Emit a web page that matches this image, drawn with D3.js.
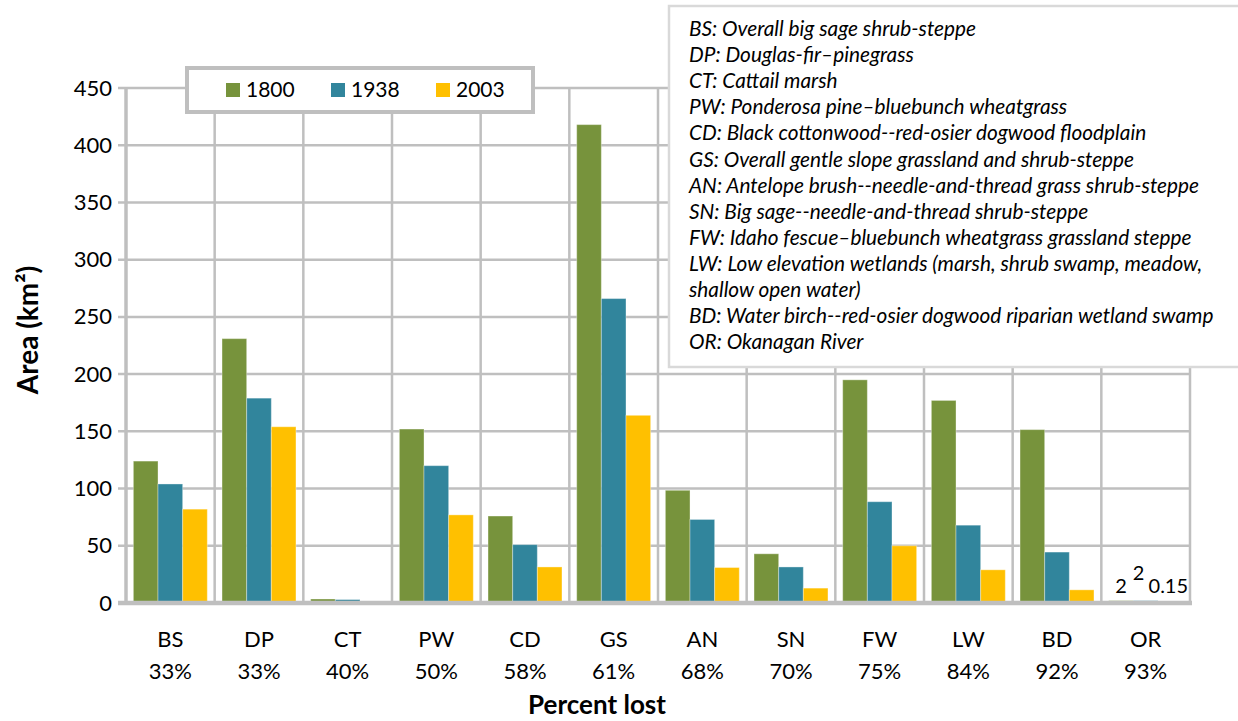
<!DOCTYPE html>
<html>
<head>
<meta charset="utf-8">
<script src="https://cdn.jsdelivr.net/npm/d3@7"></script>
<style>
  html, body { margin: 0; padding: 0; background: #fff; }
  svg { display: block; font-family: Lato, "Open Sans", sans-serif; }
</style>
</head>
<body>
<svg id="chart" width="1238" height="721"></svg>
<script>
// Habitat types, ordered by percent of area lost
const categories = ["BS", "DP", "CT", "PW", "CD", "GS", "AN", "SN", "FW", "LW", "BD", "OR"];
const percentLost = ["33%", "33%", "40%", "50%", "58%", "61%", "68%", "70%", "75%", "84%", "92%", "93%"];
const years = ["1800", "1938", "2003"];

// Area (km²) per habitat type in each year
const area1800 = [124, 231, 3.5, 152, 76, 418, 98.5, 43, 195, 177, 151.5, 2];
const area1938 = [104, 179, 3, 120, 51, 266, 73, 31.5, 88.5, 68, 44.5, 2];
const area2003 = [82, 154, 1, 77, 31.5, 164, 31, 13, 50, 29, 11.5, 0.15];

const yTicks = [0, 50, 100, 150, 200, 250, 300, 350, 400, 450];

const glossary = [
  "BS: Overall big sage shrub-steppe",
  "DP: Douglas-fir\u2013pinegrass",
  "CT: Cattail marsh",
  "PW: Ponderosa pine\u2013bluebunch wheatgrass",
  "CD: Black cottonwood--red-osier dogwood floodplain",
  "GS: Overall gentle slope grassland and shrub-steppe",
  "AN: Antelope brush--needle-and-thread grass shrub-steppe",
  "SN: Big sage--needle-and-thread shrub-steppe",
  "FW: Idaho fescue\u2013bluebunch wheatgrass grassland steppe",
  "LW: Low elevation wetlands (marsh, shrub swamp, meadow,",
  "shallow open water)",
  "BD: Water birch--red-osier dogwood riparian wetland swamp",
  "OR: Okanagan River"
];

// Only the Okanagan River bars carry value labels (they are too small to see)
const labelledCategory = "OR";

const colors = ["#77933C", "#31859C", "#FFC000"];
const gridColor = "#bfbfbf";

const series = [area1800, area1938, area2003];
const rows = categories.map((c, i) => ({
  cat: c, pct: percentLost[i],
  values: years.map((y, s) => ({ year: y, value: series[s][i], cat: c }))
}));

const svg = d3.select("#chart");
const plot = { left: 126, right: 1190, top: 88, bottom: 603 };

const x = d3.scaleBand().domain(categories).range([plot.left, plot.right]).paddingInner(0).paddingOuter(0);
const inner = 0.166; // gap between groups as a share of the band
const x1 = d3.scaleBand().domain(years)
  .range([x.bandwidth() * inner / 2, x.bandwidth() * (1 - inner / 2)]);
const y = d3.scaleLinear().domain([0, 450]).range([plot.bottom, plot.top]);

// Horizontal gridlines
svg.append("g").selectAll("line").data(yTicks).join("line")
  .attr("x1", plot.left - 8).attr("x2", plot.right)
  .attr("y1", d => y(d)).attr("y2", d => y(d))
  .attr("stroke", gridColor).attr("stroke-width", 2.5);

// Vertical gridlines between categories
svg.append("g").selectAll("line").data(categories.map((c, i) => i + 1)).join("line")
  .attr("x1", i => plot.left + i * x.step()).attr("x2", i => plot.left + i * x.step())
  .attr("y1", plot.top).attr("y2", plot.bottom)
  .attr("stroke", gridColor).attr("stroke-width", 2.5);

// Bars
const groups = svg.append("g").selectAll("g").data(rows).join("g")
  .attr("transform", d => `translate(${x(d.cat)},0)`);
groups.selectAll("rect").data(d => d.values).join("rect")
  .attr("x", d => x1(d.year))
  .attr("width", x1.bandwidth())
  .attr("y", d => y(d.value))
  .attr("height", d => y(0) - y(d.value))
  .attr("fill", (d, i) => colors[i])
  .attr("stroke", "#ffffff").attr("stroke-opacity", 0.35).attr("stroke-width", 1);

// Axis lines
svg.append("line").attr("x1", plot.left).attr("x2", plot.left)
  .attr("y1", plot.top - 1).attr("y2", plot.bottom + 2)
  .attr("stroke", gridColor).attr("stroke-width", 3.5);
svg.append("line").attr("x1", plot.left - 8).attr("x2", plot.right + 2)
  .attr("y1", plot.bottom).attr("y2", plot.bottom)
  .attr("stroke", gridColor).attr("stroke-width", 4.5);

// Y tick labels
const yAxis = d3.axisLeft(y).tickValues(yTicks).tickSize(0).tickPadding(14);
const gy = svg.append("g").attr("transform", `translate(${plot.left},0)`).call(yAxis);
gy.select(".domain").remove();
gy.selectAll("text").attr("font-size", 22).attr("fill", "#000").attr("font-family", "Lato");

// Category labels (two lines: code and percent lost)
const gx = svg.append("g").selectAll("g").data(rows).join("g")
  .attr("transform", d => `translate(${x(d.cat) + x.bandwidth() / 2},0)`);
gx.append("text").attr("y", 647).attr("text-anchor", "middle")
  .attr("font-size", 22).text(d => d.cat);
gx.append("text").attr("y", 679).attr("text-anchor", "middle")
  .attr("font-size", 22).text(d => d.pct);

// Value labels on the OR bars
const labelNudge = [{ dx: 0, dy: -8 }, { dx: -7, dy: -21 }, { dx: -2, dy: -10 }];
const orRow = rows.find(r => r.cat === labelledCategory);
svg.append("g").selectAll("text").data(orRow.values).join("text")
  .attr("x", (d, i) => x(d.cat) + x1(d.year) + x1.bandwidth() / 2 + labelNudge[i].dx)
  .attr("y", (d, i) => y(d.value) + labelNudge[i].dy)
  .attr("text-anchor", "middle").attr("font-size", 20)
  .text(d => d.value);

// Axis titles
svg.append("text").attr("x", 597).attr("y", 714)
  .attr("text-anchor", "middle").attr("font-size", 26).attr("font-weight", "bold")
  .text("Percent lost");
svg.append("text").attr("transform", "translate(38,330) rotate(-90)")
  .attr("text-anchor", "middle").attr("font-size", 28).attr("font-weight", "bold")
  .text("Area (km²)");

// Legend
const legend = svg.append("g");
legend.append("rect").attr("x", 187).attr("y", 68).attr("width", 346).attr("height", 44)
  .attr("fill", "#fff").attr("stroke", gridColor).attr("stroke-width", 4);
const li = legend.selectAll("g").data(years).join("g")
  .attr("transform", (d, i) => `translate(${226 + i * 105},0)`);
li.append("rect").attr("x", 0).attr("y", 83).attr("width", 14).attr("height", 14)
  .attr("fill", (d, i) => colors[i]);
li.append("text").attr("x", 20).attr("y", 97).attr("font-size", 21).text(d => d);

// Glossary box
const gbox = svg.append("g");
gbox.append("rect").attr("x", 669).attr("y", 6).attr("width", 600).attr("height", 361)
  .attr("fill", "#fff").attr("stroke", "#d9d9d9").attr("stroke-width", 2.5);
gbox.selectAll("text").data(glossary).join("text")
  .attr("x", 689).attr("y", (d, i) => 36 + i * 26.1)
  .attr("font-size", 20.8).attr("font-style", "italic")
  .text(d => d);
</script>
</body>
</html>
